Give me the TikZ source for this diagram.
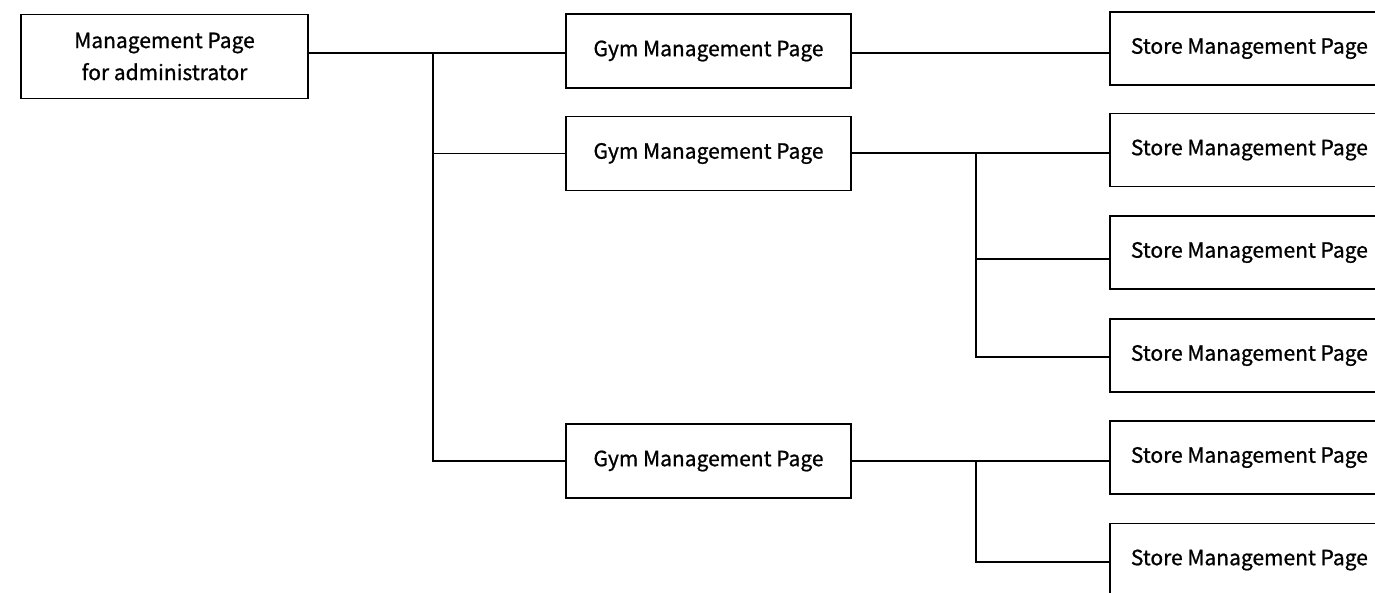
\documentclass[tikz,border=0pt]{standalone}
\usepackage{fontspec}
\setmainfont{Noto Sans CJK KR}
\newfontfamily\boxfont[FakeBold=0.9]{Noto Sans CJK KR}
\begin{document}
\begin{tikzpicture}[x=1pt,y=-1pt,
  box/.style={draw,line width=1.7pt,fill=white,inner sep=0pt,align=center,font=\boxfont\fontsize{21}{32}\selectfont},
  rootbox/.style={box,minimum width=287pt,minimum height=84pt},
  gymbox/.style={box,minimum width=285pt,minimum height=74pt},
  storebox/.style={box,inner xsep=21pt,text width=258pt,align=flush left,minimum height=73pt},
  link/.style={line width=1.7pt}]
\clip (0,0) rectangle (1375,592);
\fill[white] (0,0) rectangle (1375,592);
\node[rootbox] (root) at (164.5,56.5) {Management Page\\for administrator};
\node[gymbox] (g1) at (708.5,51) {Gym Management Page};
\node[gymbox] (g2) at (708.5,153.5) {Gym Management Page};
\node[gymbox] (g3) at (708.5,461) {Gym Management Page};
\node[storebox,anchor=west] (s1) at (1109,48.5) {Store Management Page};
\node[storebox,anchor=west] (s2) at (1109,150) {Store Management Page};
\node[storebox,anchor=west] (s3) at (1109,252.5) {Store Management Page};
\node[storebox,anchor=west] (s4) at (1109,355.5) {Store Management Page};
\node[storebox,anchor=west] (s5) at (1109,457.5) {Store Management Page};
\node[storebox,anchor=west] (s6) at (1109,560) {Store Management Page};
\coordinate (t1) at (433,53);
\coordinate (t2) at (976,153);
\coordinate (t3) at (976,461);
% root to gyms
\draw[link] (t1 -| root.east) -- (t1 -| g1.west);
\draw[link] (t1) |- (g3.west);
\draw[link] (t1 |- g2.west) -- (g2.west);
% gym1 to store1
\draw[link] (g1.east |- t1) -- (t1 -| s1.west);
% gym2 to stores 2-4
\draw[link] (t2 -| g2.east) -- (t2 -| s2.west);
\coordinate (b3) at (976,259);
\coordinate (b4) at (976,357);
\draw[link] (t2) -- (b4) -- (b4 -| s4.west);
\draw[link] (b3) -- (b3 -| s3.west);
% gym3 to stores 5-6
\draw[link] (t3 -| g3.east) -- (t3 -| s5.west);
\coordinate (b6) at (976,562);
\draw[link] (t3) -- (b6) -- (b6 -| s6.west);
\end{tikzpicture}
\end{document}
